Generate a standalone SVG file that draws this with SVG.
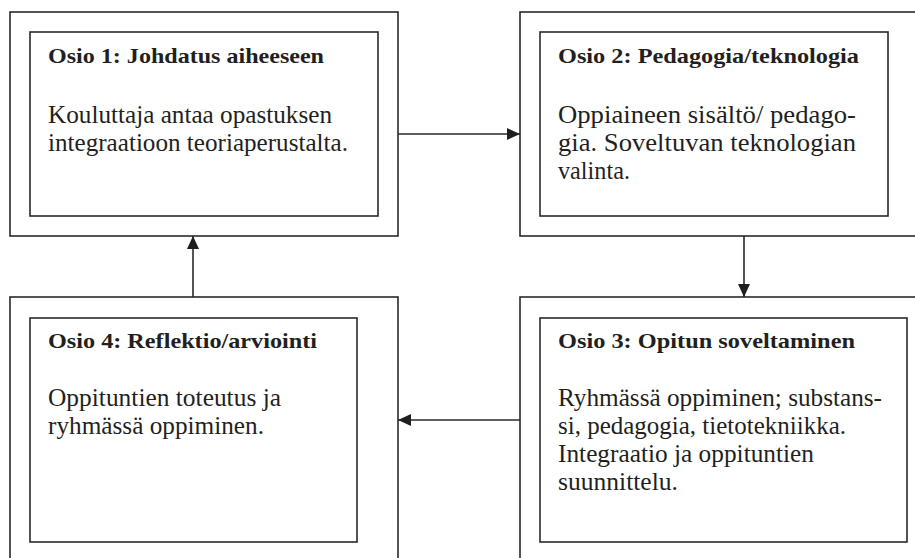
<svg xmlns="http://www.w3.org/2000/svg" width="915" height="558" viewBox="0 0 915 558">
<style>
.box{fill:#fff;stroke:#2a2a2a;stroke-width:1.6}
.conn{fill:none;stroke:#2a2a2a;stroke-width:1.6}
.t{font-family:"Liberation Serif","Times New Roman",serif;font-size:22px;font-weight:bold;fill:#231f20}
.b{font-family:"Liberation Serif","Times New Roman",serif;font-size:25.5px;fill:#231f20}
</style>
<defs>
<marker id="ah" markerUnits="userSpaceOnUse" markerWidth="14" markerHeight="12" refX="13" refY="6" orient="auto">
<path d="M0,0 L13,6 L0,12 z" fill="#1e1e1e"/>
</marker>
</defs>
<rect width="915" height="558" fill="#fff"/>
<g id="node1">
<rect class="box" x="10" y="12" width="388" height="224"/>
<rect class="box" x="30" y="32" width="348" height="184"/>
<text class="t" x="48" y="63" textLength="276" lengthAdjust="spacingAndGlyphs">Osio 1: Johdatus aiheeseen</text>
<text class="b" x="48" y="123" textLength="284" lengthAdjust="spacingAndGlyphs">Kouluttaja antaa opastuksen</text>
<text class="b" x="48" y="151" textLength="300" lengthAdjust="spacingAndGlyphs">integraatioon teoriaperustalta.</text>
</g>
<g id="node2">
<rect class="box" x="520" y="12" width="410" height="224"/>
<rect class="box" x="540" y="32" width="348" height="184"/>
<text class="t" x="558" y="63" textLength="301" lengthAdjust="spacingAndGlyphs">Osio 2: Pedagogia/teknologia</text>
<text class="b" x="558" y="123" textLength="298" lengthAdjust="spacingAndGlyphs">Oppiaineen sisältö/ pedago-</text>
<text class="b" x="558" y="151" textLength="298" lengthAdjust="spacingAndGlyphs">gia. Soveltuvan teknologian</text>
<text class="b" x="558" y="179" textLength="72" lengthAdjust="spacingAndGlyphs">valinta.</text>
</g>
<g id="node3">
<rect class="box" x="520" y="297" width="410" height="280"/>
<rect class="box" x="540" y="318" width="367" height="224"/>
<text class="t" x="558" y="348" textLength="297" lengthAdjust="spacingAndGlyphs">Osio 3: Opitun soveltaminen</text>
<text class="b" x="558" y="406" textLength="324" lengthAdjust="spacingAndGlyphs">Ryhmässä oppiminen; substans-</text>
<text class="b" x="558" y="434" textLength="288" lengthAdjust="spacingAndGlyphs">si, pedagogia, tietotekniikka.</text>
<text class="b" x="558" y="462" textLength="256" lengthAdjust="spacingAndGlyphs">Integraatio ja oppituntien</text>
<text class="b" x="558" y="490" textLength="120" lengthAdjust="spacingAndGlyphs">suunnittelu.</text>
</g>
<g id="node4">
<rect class="box" x="10" y="297" width="388" height="280"/>
<rect class="box" x="30" y="318" width="327" height="224"/>
<text class="t" x="48" y="348" textLength="269" lengthAdjust="spacingAndGlyphs">Osio 4: Reflektio/arviointi</text>
<text class="b" x="48" y="406" textLength="233" lengthAdjust="spacingAndGlyphs">Oppituntien toteutus ja</text>
<text class="b" x="48" y="434" textLength="216" lengthAdjust="spacingAndGlyphs">ryhmässä oppiminen.</text>
</g>
<g id="connectors">
<line class="conn" x1="398" y1="134" x2="520" y2="134" marker-end="url(#ah)"/>
<line class="conn" x1="744" y1="236" x2="744" y2="297" marker-end="url(#ah)"/>
<line class="conn" x1="520" y1="420" x2="398" y2="420" marker-end="url(#ah)"/>
<line class="conn" x1="193" y1="297" x2="193" y2="236" marker-end="url(#ah)"/>
</g>
</svg>
